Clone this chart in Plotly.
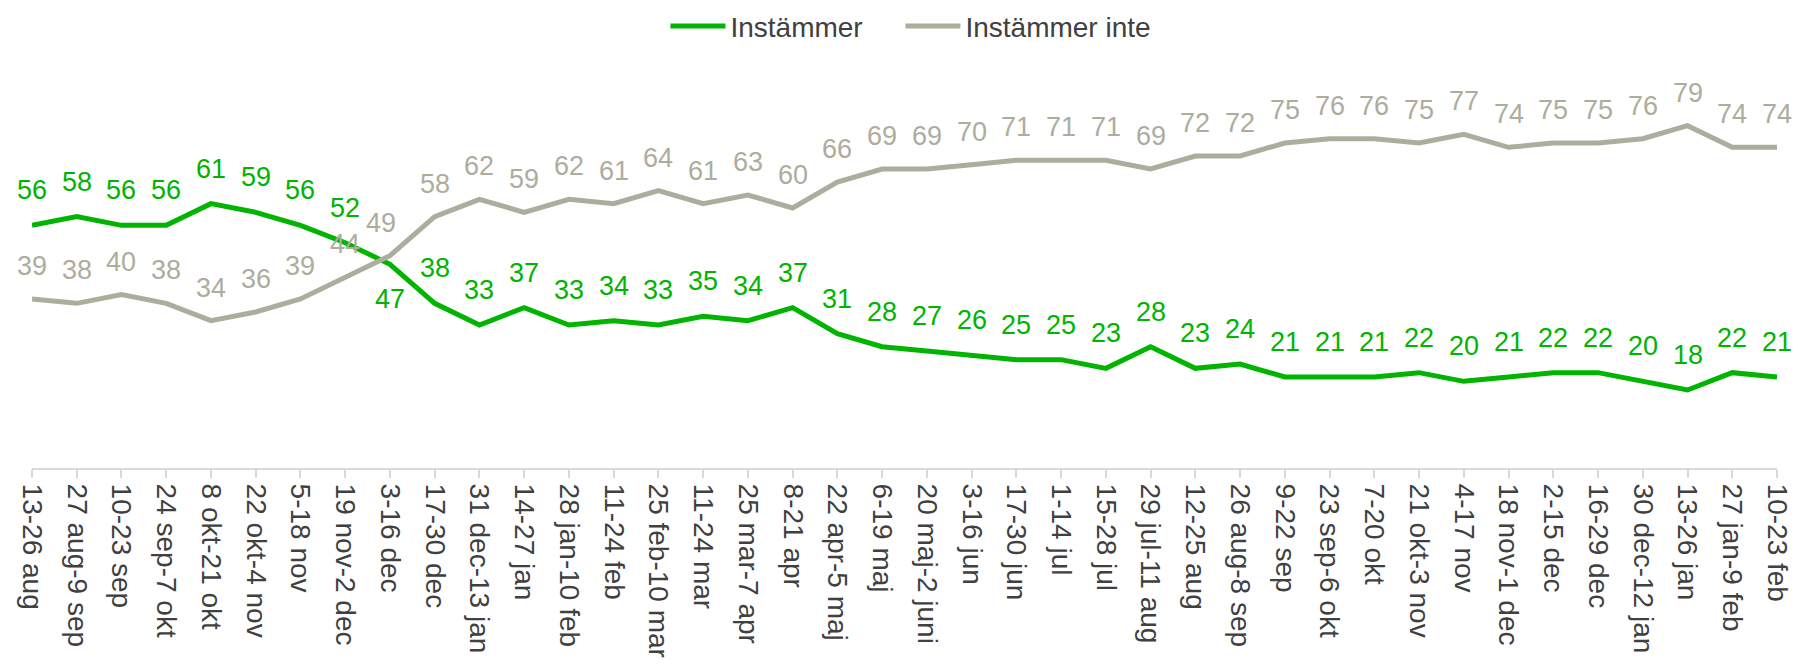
import plotly.graph_objects as go

periods = [
    "13-26 aug", "27 aug-9 sep", "10-23 sep", "24 sep-7 okt", "8 okt-21 okt",
    "22 okt-4 nov", "5-18 nov", "19 nov-2 dec", "3-16 dec", "17-30 dec",
    "31 dec-13 jan", "14-27 jan", "28 jan-10 feb", "11-24 feb", "25 feb-10 mar",
    "11-24 mar", "25 mar-7 apr", "8-21 apr", "22 apr-5 maj", "6-19 maj",
    "20 maj-2 juni", "3-16 jun", "17-30 jun", "1-14 jul", "15-28 jul",
    "29 jul-11 aug", "12-25 aug", "26 aug-8 sep", "9-22 sep", "23 sep-6 okt",
    "7-20 okt", "21 okt-3 nov", "4-17 nov", "18 nov-1 dec", "2-15 dec",
    "16-29 dec", "30 dec-12 jan", "13-26 jan", "27 jan-9 feb", "10-23 feb",
]
instammer = [56, 58, 56, 56, 61, 59, 56, 52, 47, 38, 33, 37, 33, 34, 33, 35, 34, 37, 31, 28,
             27, 26, 25, 25, 23, 28, 23, 24, 21, 21, 21, 22, 20, 21, 22, 22, 20, 18, 22, 21]
instammer_inte = [39, 38, 40, 38, 34, 36, 39, 44, 49, 58, 62, 59, 62, 61, 64, 61, 63, 60, 66, 69,
                  69, 70, 71, 71, 71, 69, 72, 72, 75, 76, 76, 75, 77, 74, 75, 75, 76, 79, 74, 74]

GREEN = "#00B400"
GREY = "#ADAD9E"
FONT = "Liberation Sans, Arial, sans-serif"

fig = go.Figure()
fig.add_trace(go.Scatter(x=periods, y=instammer, name="Instämmer", mode="lines",
                         line=dict(color=GREEN, width=5), legendwidth=165))
fig.add_trace(go.Scatter(x=periods, y=instammer_inte, name="Instämmer inte", mode="lines",
                         line=dict(color=GREY, width=5), legendwidth=270))

# data labels, mostly above the line
for p, v in zip(periods, instammer):
    below = p == "3-16 dec"
    fig.add_annotation(x=p, y=v, text=str(v), showarrow=False,
                       yshift=-35 if below else 35,
                       font=dict(color=GREEN, size=27, family=FONT))
for p, v in zip(periods, instammer_inte):
    fig.add_annotation(x=p, y=v, text=str(v), showarrow=False, yshift=33,
                       xshift=-9 if p == "3-16 dec" else 0,
                       font=dict(color=GREY, size=27, family=FONT))

# legend sits inside the plot area (t=0, y range padded) so it doesn't push the margins
fig.update_layout(
    width=1798, height=665,
    paper_bgcolor="white", plot_bgcolor="white",
    font=dict(family=FONT, color="#404040", size=28),
    margin=dict(l=32, r=21, t=0, b=197),
    showlegend=True,
    legend=dict(orientation="h", x=0.363, xanchor="left", y=0.944, yanchor="middle",
                font=dict(size=28, color="#404040"), itemwidth=55,
                bgcolor="rgba(0,0,0,0)"),
    xaxis=dict(type="category", range=[0, len(periods) - 1], tickmode="array",
               tickvals=periods, ticktext=periods, tickangle=90,
               showline=True, linecolor="#D9D9D9", linewidth=2,
               ticks="outside", ticklen=8, tickcolor="#D9D9D9", tickwidth=2,
               showgrid=False, tickfont=dict(size=28, color="#404040")),
    yaxis=dict(range=[0, 108], visible=False, showgrid=False),
)

fig.write_html("out.html", config={"displayModeBar": False},
               post_script="document.body.style.margin = '0';")
